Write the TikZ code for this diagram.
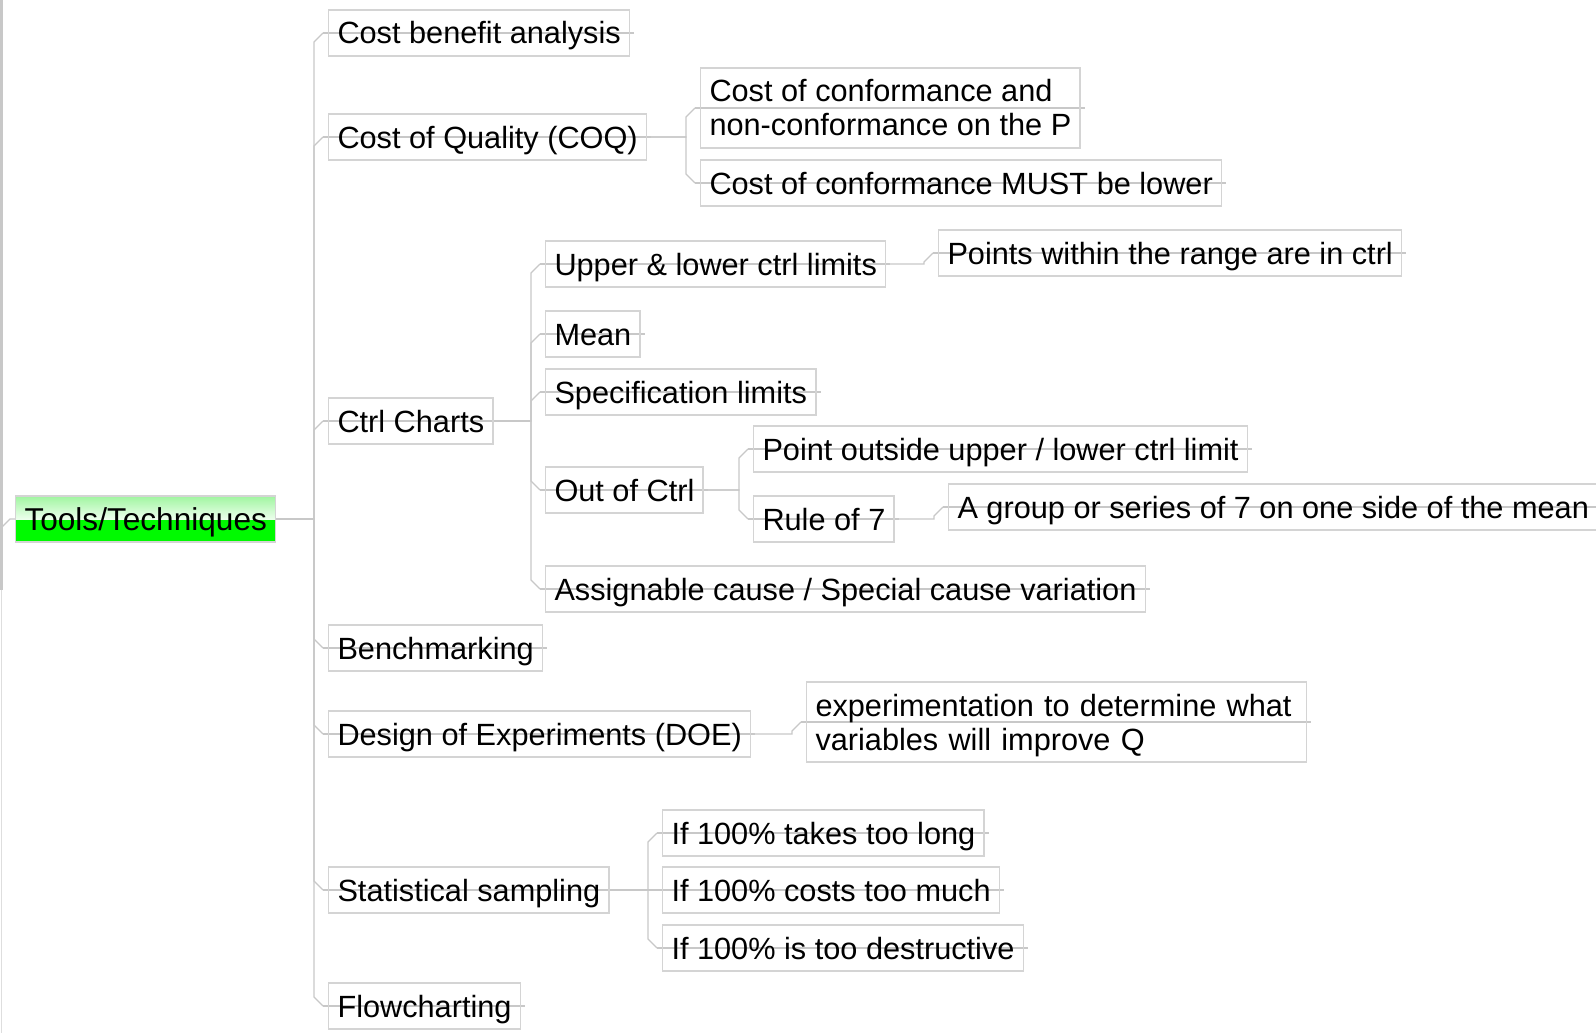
\documentclass[tikz,border=0pt]{standalone}
\usepackage{fontspec}
\setmainfont{Liberation Sans}
\usetikzlibrary{calc}
\pgfdeclarelayer{bg}
\pgfsetlayers{bg,main}
\definecolor{linegray}{RGB}{200,200,200}
\definecolor{boxgray}{RGB}{212,212,212}
\definecolor{edgegray}{RGB}{200,200,200}
\definecolor{edgelight}{RGB}{222,222,222}
\definecolor{rootgreen}{RGB}{0,250,0}
\definecolor{roottop}{RGB}{160,245,160}
\definecolor{rootmid}{RGB}{236,255,236}
\newcommand\mmkid[4]{\draw[link] (#1.east) -- (#1.east -| #3) -- ($(#2.west -| #3)+(0,#4)$) -- ($(#2.west)+(-5,0)$);}
\newcommand\mmthru[1]{\draw[link] ($(#1.west)+(-5,0)$) -- ($(#1.east)+(4,0)$);}
\begin{document}
\begin{tikzpicture}[x=1pt,y=-1pt,
  topic/.style={draw=boxgray, line width=1.4pt, anchor=west, inner xsep=8.8pt, inner ysep=0pt,
    minimum height=46pt, text height=28pt, text depth=6pt,
    font=\fontsize{30.7}{34}\selectfont, text=black},
  tall/.style={topic, text height=, text depth=, align=left, minimum height=80pt},
  link/.style={draw=linegray, line width=1.3pt},
  root/.style={topic, font=\fontsize{31.6}{34}\selectfont, path picture={
    \fill[rootgreen] (path picture bounding box.west) rectangle (path picture bounding box.south east);
    \shade[top color=roottop, bottom color=rootmid] (path picture bounding box.north west) rectangle (path picture bounding box.east);
  }},
]
\path[use as bounding box] (0,0) rectangle (1596,1033);
\clip (0,0) rectangle (1596,1033);

% nodes
\node[root] (root) at (15,519) {Tools/Techniques};
\node[topic] (cba) at (328,33) {Cost benefit analysis};
\node[topic] (coq) at (328,137) {Cost of Quality (COQ)};
\node[tall] (coc1) at (700,108) {Cost of conformance and\\non-conformance on the P};
\node[topic] (coc2) at (700,183) {Cost of conformance MUST be lower};
\node[topic] (ctrl) at (328,421) {Ctrl Charts};
\node[topic] (ucl) at (545,264) {Upper \& lower ctrl limits};
\node[topic] (pts) at (938,253) {Points within the range are in ctrl};
\node[topic] (mean) at (545,334) {Mean};
\node[topic] (spec) at (545,392) {Specification limits};
\node[topic] (ooc) at (545,490) {Out of Ctrl};
\node[topic] (pout) at (753,449) {Point outside upper / lower ctrl limit};
\node[topic] (r7) at (753,519) {Rule of 7};
\node[topic] (grp) at (948,507) {A group or series of 7 on one side of the mean};
\node[topic] (asg) at (545,589) {Assignable cause / Special cause variation};
\node[topic] (bench) at (328,648) {Benchmarking};
\node[topic] (doe) at (328,734) {Design of Experiments (DOE)};
\node[tall, text width=482pt] (exper) at (806,722) {experimentation to determine what\\\raisebox{0pt}[\height][0pt]{variables will improve Q}};
\node[topic] (ss) at (328,890) {Statistical sampling};
\node[topic] (ifa) at (662,833) {If 100\% takes too long};
\node[topic] (ifb) at (662,890) {If 100\% costs too much};
\node[topic] (ifc) at (662,948) {If 100\% is too destructive};
\node[topic] (flow) at (328,1006) {Flowcharting};

% trunk positions
\coordinate (t1) at (314,0);
\coordinate (t2) at (686,0);
\coordinate (t3) at (531,0);
\coordinate (t4) at (924,0);
\coordinate (t5) at (739,0);
\coordinate (t6) at (934,0);
\coordinate (t7) at (792,0);
\coordinate (t8) at (648,0);
\coordinate (rin) at (1,528);

\begin{pgfonlayer}{bg}
\fill[white] (0,0) rectangle (1596,1033);
\draw[edgegray, line width=3pt] (1.5,0) -- (1.5,590);
\draw[edgelight, line width=1pt] (1,590) -- (1,1033);
\draw[link] (rin) -- ($(root.west)+(-5,0)$) -- (root.east);
\foreach \n in {cba,coq,coc1,coc2,ctrl,ucl,pts,mean,spec,ooc,pout,r7,grp,asg,bench,doe,exper,ss,ifa,ifb,ifc,flow}{\mmthru{\n}}
\mmkid{root}{cba}{t1}{9}
\mmkid{root}{coq}{t1}{9}
\mmkid{root}{ctrl}{t1}{9}
\mmkid{root}{bench}{t1}{-9}
\mmkid{root}{doe}{t1}{-9}
\mmkid{root}{ss}{t1}{-9}
\mmkid{root}{flow}{t1}{-9}
\mmkid{coq}{coc1}{t2}{9}
\mmkid{coq}{coc2}{t2}{-9}
\mmkid{ctrl}{ucl}{t3}{9}
\mmkid{ctrl}{mean}{t3}{9}
\mmkid{ctrl}{spec}{t3}{9}
\mmkid{ctrl}{ooc}{t3}{-9}
\mmkid{ctrl}{asg}{t3}{-9}
\mmkid{ucl}{pts}{t4}{9}
\mmkid{ooc}{pout}{t5}{9}
\mmkid{ooc}{r7}{t5}{-9}
\mmkid{r7}{grp}{t6}{9}
\mmkid{doe}{exper}{t7}{9}
\mmkid{ss}{ifa}{t8}{9}
\mmkid{ss}{ifb}{t8}{0}
\mmkid{ss}{ifc}{t8}{-9}
\end{pgfonlayer}
\end{tikzpicture}
\end{document}
